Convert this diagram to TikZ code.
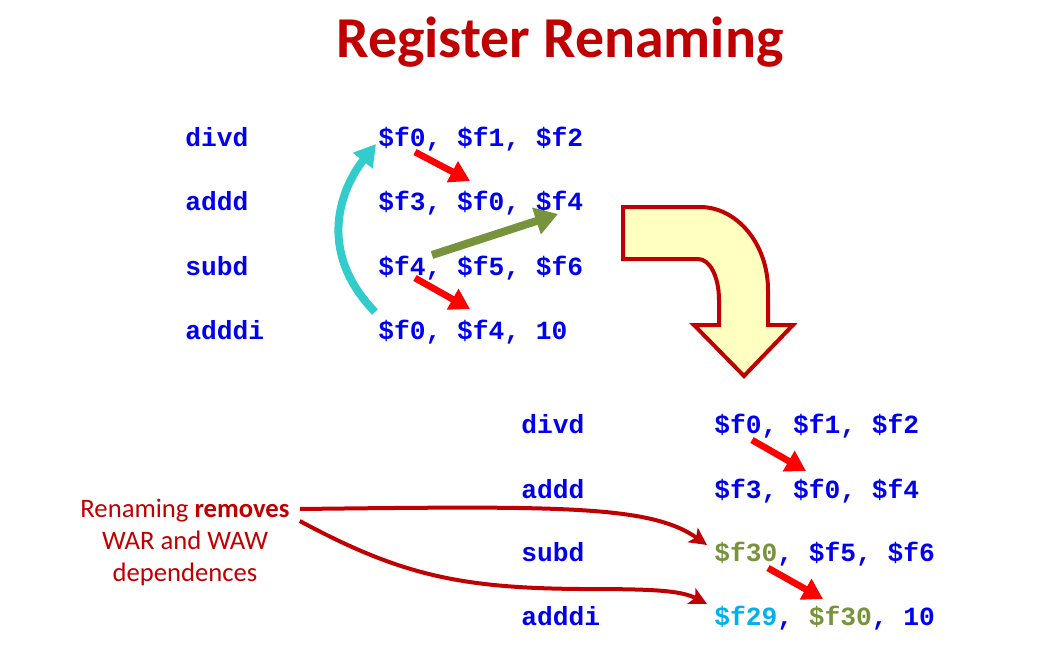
\documentclass[tikz,border=0pt]{standalone}
\usepackage{fontspec}
\setmainfont{Carlito}
\setmonofont{Liberation Mono}
\usetikzlibrary{arrows.meta}
\definecolor{titlered}{HTML}{C00000}
\definecolor{codeblue}{HTML}{0000F0}
\definecolor{olive}{HTML}{77933C}
\definecolor{skyblue}{HTML}{00B0F0}
\definecolor{teal}{HTML}{33CCCC}
\definecolor{hotred}{HTML}{FF0000}
\definecolor{paleyellow}{HTML}{FFFFC0}
\begin{document}
\begin{tikzpicture}[x=0.75pt,y=-0.75pt,
  code/.style={font=\ttfamily\bfseries\fontsize{19.7}{24}\selectfont,
    text=codeblue, anchor=base west, inner sep=0pt},
  label/.style={font=\fontsize{20}{24}\selectfont, text=titlered,
    anchor=base, inner sep=0pt},
  deparrow/.style={hotred, line width=5pt,
    -{Triangle[length=15pt,width=17pt]}},
  wararrow/.style={olive, line width=6pt,
    -{Triangle[length=17pt,width=20pt]}},
  wawarrow/.style={teal, line width=6pt,
    -{Triangle[length=16pt,width=18pt]}},
  notearrow/.style={titlered, line width=3pt,
    -{Stealth[length=13pt,width=13pt,inset=3pt]}},
  bigarrow/.style={draw=titlered, fill=paleyellow, line width=3pt,
    line join=miter}]
\useasboundingbox (0,0) rectangle (1053,657);

% title
\node[font=\bfseries\fontsize{43.4}{50}\selectfont, text=titlered,
  anchor=base, inner sep=0pt] (title) at (560,57) {Register Renaming};

% original code
\node[code] (op1) at (185,146) {divd};
\node[code] (op2) at (185,210) {addd};
\node[code] (op3) at (185,275) {subd};
\node[code] (op4) at (185,339) {adddi};
\node[code] (ar1) at (378,146) {\$f0, \$f1, \$f2};
\node[code] (ar2) at (378,210) {\$f3, \$f0, \$f4};
\node[code] (ar3) at (378,275) {\$f4, \$f5, \$f6};
\node[code] (ar4) at (378,339) {\$f0, \$f4, 10};

% dependences in the original code
\draw[wawarrow] ([shift={(-3,-27)}]ar4.base west)
  .. controls +(-60,-62) and +(-34,43) .. ([shift={(-2,-2)}]ar1.base west);
\draw[deparrow] ([shift={(37,6)}]ar1.base west) -- ([shift={(92,-29)}]ar2.base west);
\draw[deparrow] ([shift={(37,3)}]ar3.base west) -- ([shift={(92,-30)}]ar4.base west);
\draw[wararrow] ([shift={(54,-20)}]ar3.base west) -- ([shift={(180,4)}]ar2.base west);

% bent arrow between the two listings
\draw[bigarrow] (623,207) -- (700,207)
  .. controls (737,207) and (768,244) .. (768,290) -- (768,325)
  -- (793,325) -- (744,376) -- (694,325) -- (719,325) -- (719,300)
  .. controls (719,277) and (710,259) .. (698,259) -- (623,259) -- cycle;

% renamed code
\node[code] (bop1) at (521,433) {divd};
\node[code] (bop2) at (521,498) {addd};
\node[code] (bop3) at (521,561) {subd};
\node[code] (bop4) at (521,625) {adddi};
\node[code] (bar1) at (714,433) {\$f0, \$f1, \$f2};
\node[code] (bar2) at (714,498) {\$f3, \$f0, \$f4};
\node[code] (bar3) at (714,561) {\textcolor{olive}{\$f30}, \$f5, \$f6};
\node[code] (bar4) at (714,625) {\textcolor{skyblue}{\$f29}, \textcolor{olive}{\$f30}, 10};

\draw[deparrow] ([shift={(38,7)}]bar1.base west) -- ([shift={(92,-27)}]bar2.base west);
\draw[deparrow] ([shift={(54,7)}]bar3.base west) -- ([shift={(109,-26)}]bar4.base west);

% note
\node[label] (lbl1) at (185,517) {Renaming \textbf{removes}};
\node[label] (lbl2) at (185,549) {WAR and WAW};
\node[label] (lbl3) at (185,581) {dependences};

\draw[notearrow] ([shift={(10,-8)}]lbl1.base east)
  .. controls (560,506) and (650,505) .. ([shift={(-7,-16)}]bar3.base west);
\draw[notearrow] ([shift={(10,4)}]lbl1.base east)
  .. controls (400,575) and (460,588) .. (580,589)
  .. controls (650,589) and (680,590) .. ([shift={(-7,-21)}]bar4.base west);
\end{tikzpicture}
\end{document}
